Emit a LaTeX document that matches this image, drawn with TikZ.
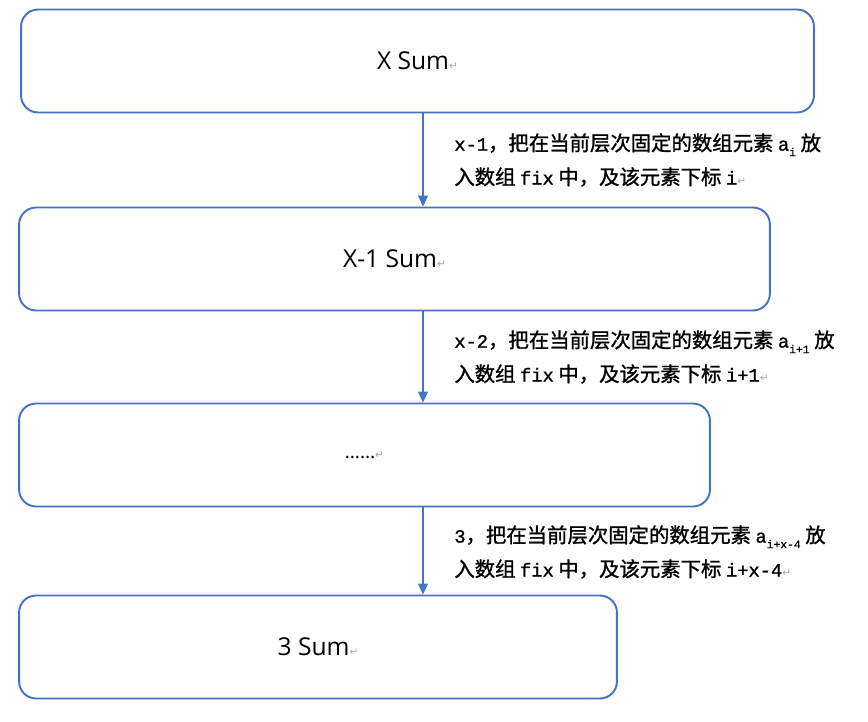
\documentclass[tikz,border=0pt]{standalone}
\usepackage{fontspec}
\setmainfont{Open Sans}
\newfontfamily\cjk[FakeBold=1.2]{Noto Sans CJK SC}
\newfontfamily\mono[Scale=0.92,FakeBold=1.2]{Liberation Mono}
\newfontfamily\dejavu{DejaVu Sans}
\usetikzlibrary{arrows.meta}
\definecolor{officeblue}{HTML}{4472C4}
% paragraph mark and lowered index
\newcommand{\pmark}{{\dejavu\color{gray!70}\fontsize{6}{6}\selectfont ↵}}
\newcommand{\idx}[1]{\raisebox{-0.5ex}{\mono\fontsize{7}{7}\selectfont #1}}

\begin{document}
\begin{tikzpicture}[x=0.02cm,y=-0.02cm,
    sumbox/.style={draw=officeblue,line width=1.1pt,rounded corners=0.34cm,
      minimum height=2.06cm,inner sep=0pt,font=\fontsize{14}{16}\selectfont},
    note/.style={anchor=north west,inner sep=0pt,align=left,
      font=\cjk\fontsize{11.6}{19.3}\selectfont},
    flow/.style={draw=officeblue,line width=0.6pt,-{Triangle[length=2.2mm,width=2mm]}}]

  \useasboundingbox (0,0) rectangle (868,722);
  \coordinate (axis) at (423,0);

  \node[sumbox,minimum width=15.86cm] (xsum) at (417.5,61) {X Sum\pmark};
  \node[sumbox,minimum width=15.02cm] (x1sum) at (394.5,259) {X-1 Sum\pmark};
  \node[sumbox,minimum width=13.82cm] (dots) at (364.5,455) {\fontsize{11}{12}\selectfont ……\pmark};
  \node[sumbox,minimum width=11.96cm] (sum3) at (318,647) {3 Sum\pmark};

  \draw[flow] (xsum.south -| axis) -- (x1sum.north -| axis);
  \draw[flow] (x1sum.south -| axis) -- (dots.north -| axis);
  \draw[flow] (dots.south -| axis) -- (sum3.north -| axis);

  \node[note] (fix1) at (454,133) {{\mono x-1}，把在当前层次固定的数组元素 {\mono a}\idx{i} 放\\
    入数组 {\mono fix} 中，及该元素下标 {\mono i}\pmark};
  \node[note] (fix2) at (454,330) {{\mono x-2}，把在当前层次固定的数组元素 {\mono a}\idx{i+1} 放\\
    入数组 {\mono fix} 中，及该元素下标 {\mono i+1}\pmark};
  \node[note] (fix3) at (454,525) {{\mono 3}，把在当前层次固定的数组元素 {\mono a}\idx{i+x-4} 放\\
    入数组 {\mono fix} 中，及该元素下标 {\mono i+x-4}\pmark};
\end{tikzpicture}
\end{document}
